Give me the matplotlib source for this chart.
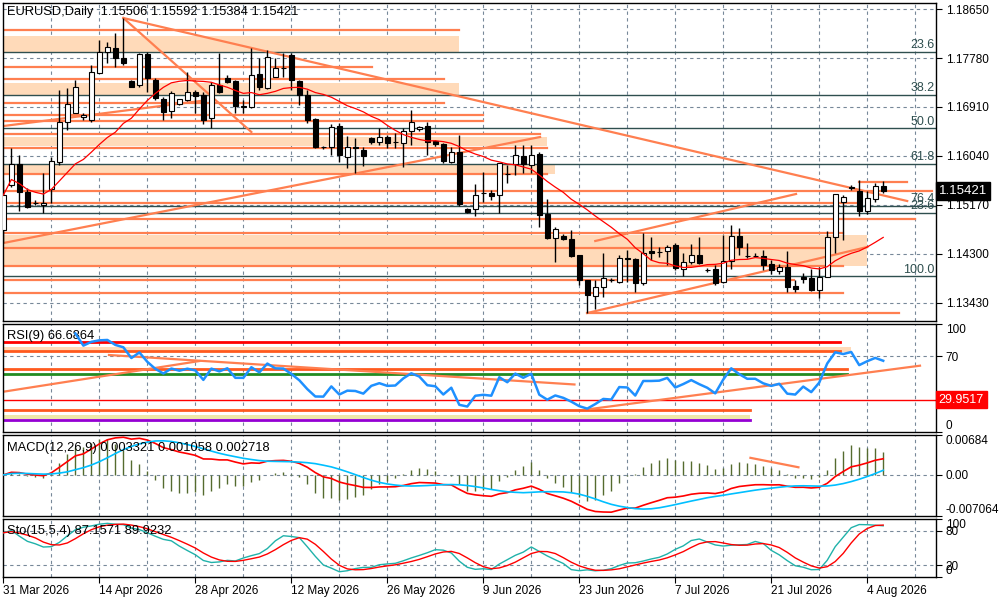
import numpy as np
import pandas as pd
import matplotlib
matplotlib.use("Agg")
import matplotlib.pyplot as plt
import matplotlib.transforms as mtransforms

plt.rcParams["font.family"] = ["Liberation Sans", "DejaVu Sans"]

# ---- price data (daily bars) ----
opens = [1.14725, 1.15524, 1.15897, 1.15400, 1.15205, 1.15169, 1.15453, 1.15933, 1.16643, 1.16803,
         1.16732, 1.16679, 1.17514, 1.17886, 1.17958, 1.17780, 1.17371, 1.17300, 1.17851, 1.17389,
         1.17052, 1.16839, 1.16963, 1.17034, 1.17176, 1.17123, 1.16714, 1.17300, 1.17425, 1.17371,
         1.16910, 1.16910, 1.17496, 1.17247, 1.17442, 1.17602, 1.17833, 1.17371, 1.17123, 1.16697,
         1.16200, 1.16200, 1.16572, 1.16022, 1.16200, 1.16146, 1.16359, 1.16288, 1.16377, 1.16288,
         1.16270, 1.16483, 1.16519, 1.16572, 1.16306, 1.16253, 1.15933, 1.16110, 1.15098, 1.15098,
         1.15382, 1.15382, 1.15347, 1.15720, 1.15897, 1.16039, 1.15880, 1.16075, 1.15009, 1.14583,
         1.14619, 1.14565, 1.14281, 1.13837, 1.13553, 1.13713, 1.13837, 1.13802, 1.14228, 1.14210,
         1.13784, 1.14352, 1.14335, 1.14352, 1.14459, 1.14033, 1.14157, 1.14281, 1.14015, 1.14033,
         1.13802, 1.14175, 1.14619, 1.14263, 1.14263, 1.14263, 1.14122, 1.13997, 1.14068, 1.13731,
         1.13890, 1.13873, 1.13660, 1.13890, 1.14601, 1.15223, 1.15489, 1.15418, 1.15063, 1.15276,
         1.15506]
highs = [1.15613, 1.16182, 1.16057, 1.15471, 1.15258, 1.15738, 1.16022, 1.17212, 1.17247, 1.17389,
         1.16803, 1.17656, 1.18100, 1.18064, 1.18224, 1.18490, 1.17389, 1.17869, 1.17886, 1.17425,
         1.17087, 1.17194, 1.17052, 1.17531, 1.17212, 1.17176, 1.17354, 1.17869, 1.17478, 1.17389,
         1.17034, 1.17958, 1.17780, 1.17922, 1.17780, 1.17869, 1.17869, 1.17389, 1.17212, 1.16714,
         1.16217, 1.16608, 1.16626, 1.16395, 1.16359, 1.16200, 1.16377, 1.16537, 1.16412, 1.16448,
         1.16537, 1.16857, 1.16572, 1.16643, 1.16324, 1.16270, 1.16200, 1.16412, 1.15116, 1.15542,
         1.15755, 1.15436, 1.15915, 1.15880, 1.16235, 1.16235, 1.16235, 1.16110, 1.15276, 1.14778,
         1.14654, 1.14725, 1.14281, 1.13837, 1.13837, 1.14317, 1.13873, 1.14281, 1.14370, 1.14228,
         1.14672, 1.14601, 1.14423, 1.14459, 1.14494, 1.14317, 1.14477, 1.14601, 1.14050, 1.14104,
         1.14636, 1.14814, 1.14761, 1.14494, 1.14317, 1.14370, 1.14192, 1.14122, 1.14352, 1.13837,
         1.13962, 1.14033, 1.14068, 1.14707, 1.15364, 1.15347, 1.15524, 1.15613, 1.15418, 1.15560,
         1.15592]
lows = [1.14494, 1.15489, 1.15063, 1.15116, 1.15169, 1.15027, 1.15205, 1.15880, 1.16501, 1.16803,
        1.16679, 1.16643, 1.17514, 1.17691, 1.17620, 1.17656, 1.17265, 1.17265, 1.17176, 1.17034,
        1.16679, 1.16714, 1.16950, 1.17016, 1.16803, 1.16608, 1.16537, 1.17158, 1.17336, 1.16803,
        1.16803, 1.16892, 1.17212, 1.17229, 1.17442, 1.17442, 1.17212, 1.16945, 1.16626, 1.16182,
        1.16164, 1.16057, 1.15933, 1.15826, 1.15738, 1.15862, 1.16253, 1.16235, 1.16182, 1.16182,
        1.15844, 1.16235, 1.16483, 1.16057, 1.16217, 1.15915, 1.15915, 1.15151, 1.15027, 1.14974,
        1.15223, 1.15258, 1.15027, 1.15560, 1.15702, 1.15738, 1.15738, 1.14778, 1.14565, 1.14157,
        1.14548, 1.14246, 1.13748, 1.13251, 1.13322, 1.13535, 1.13802, 1.13784, 1.13802, 1.13624,
        1.13748, 1.14192, 1.14246, 1.14104, 1.14015, 1.13908, 1.14122, 1.14122, 1.13979, 1.13748,
        1.13784, 1.14033, 1.14281, 1.14228, 1.14246, 1.14015, 1.13944, 1.13944, 1.13624, 1.13624,
        1.13784, 1.13642, 1.13517, 1.13890, 1.14317, 1.14548, 1.15436, 1.14974, 1.15009, 1.15223,
        1.15384]
closes = [1.15347, 1.15897, 1.15400, 1.15134, 1.15196, 1.15205, 1.15951, 1.16643, 1.16963, 1.17265,
          1.16768, 1.17531, 1.17886, 1.17975, 1.17780, 1.17691, 1.17265, 1.17851, 1.17425, 1.17070,
          1.16821, 1.17158, 1.17052, 1.17176, 1.17105, 1.16679, 1.17300, 1.17176, 1.17354, 1.16927,
          1.16927, 1.17478, 1.17265, 1.17798, 1.17602, 1.17594, 1.17389, 1.17123, 1.16679, 1.16200,
          1.16191, 1.16554, 1.16057, 1.16200, 1.16182, 1.16039, 1.16288, 1.16377, 1.16270, 1.16280,
          1.16483, 1.16643, 1.16554, 1.16288, 1.16253, 1.15951, 1.16110, 1.15187, 1.15045, 1.15347,
          1.15375, 1.15329, 1.15915, 1.15712, 1.16057, 1.15897, 1.16057, 1.14992, 1.14583, 1.14743,
          1.14565, 1.14263, 1.13837, 1.13571, 1.13713, 1.13873, 1.13830, 1.14228, 1.14210, 1.13784,
          1.14317, 1.14317, 1.14328, 1.14423, 1.14050, 1.14157, 1.14281, 1.14139, 1.14008, 1.13784,
          1.14175, 1.14619, 1.14423, 1.14256, 1.14256, 1.14104, 1.14015, 1.14068, 1.13713, 1.13677,
          1.13855, 1.13660, 1.13890, 1.14601, 1.15364, 1.15311, 1.15471, 1.15063, 1.15294, 1.15506,
          1.15421]

date_labels = ["31 Mar 2026", "14 Apr 2026", "28 Apr 2026", "12 May 2026", "26 May 2026",
               "9 Jun 2026", "23 Jun 2026", "7 Jul 2026", "21 Jul 2026", "4 Aug 2026"]
price_ticks = [1.18650, 1.17780, 1.16910, 1.16040, 1.15170, 1.14300, 1.13430]

# ---- drawn objects on the price chart ----
hline_prices = [1.18277, 1.17620, 1.17407, 1.16981, 1.16768, 1.16661, 1.16430, 1.16182, 1.15720,
                1.15418, 1.15205, 1.14921, 1.14672, 1.14406, 1.14086, 1.13842, 1.13612, 1.13251, 1.15583]
hline_start = [-1] * 17 + [73, 107]
hline_end = [57, 46.1, 55.1, 55.1, 60, 60, 67.1, 68, 68,
             116.1, 107.1, 114, 105, 103.1, 105, 98.8, 105, 112, 113]
zone_lo = [1.17869, 1.17123, 1.16217, 1.15720, 1.14086]
zone_hi = [1.18171, 1.17336, 1.16377, 1.15880, 1.14636]
zone_end = [57, 57, 68, 69, 108]
fib_names = ["23.6", "38.2", "50.0", "61.8", "76.4", "23.6", "100.0"]
fib_prices = [1.17892, 1.17128, 1.16537, 1.15903, 1.15157, 1.15032, 1.13908]
trend_lines = [(15, 1.18490, 113, 1.15240), (15, 1.18490, 31, 1.16466),
               (0, 1.14494, 67.1, 1.16377), (0, 1.16572, 24.6, 1.17016),
               (73, 1.13251, 108, 1.14423), (74, 1.14530, 99.1, 1.15365)]

# ---- drawn objects on the indicator windows ----
rsi_levels = [83.6, 75.3, 58.0, 53.8, 20.5, 11.2]
rsi_level_colors = ["#ff0000", "#ff5a1e", "#ff5a1e", "#228b22", "#ff5a1e", "#9400d3"]
rsi_level_end = [104.6, 104.6, 105.5, 105.5, 93.4, 93.4]
rsi_trend = [(13.2, 71.3, 71.4, 44.0), (0, 37.3, 24.5, 65.7), (73.4, 21.3, 114.6, 61.4)]
macd_trend = (93.4, 0.00292, 99.4, 0.00130)

df = pd.DataFrame({"open": opens, "high": highs, "low": lows, "close": closes})
n = len(df)
idx = np.arange(n)

# indicators computed from the bars
ma = df["close"].rolling(15, min_periods=1).mean()
delta = df["close"].diff()
gain = delta.clip(lower=0).ewm(alpha=1 / 9, adjust=False, min_periods=9).mean()
loss = (-delta.clip(upper=0)).ewm(alpha=1 / 9, adjust=False, min_periods=9).mean()
rsi = 100 - 100 / (1 + gain / loss)
macd_main = df["close"].ewm(span=12, adjust=False).mean() - df["close"].ewm(span=26, adjust=False).mean()
macd_signal = macd_main.rolling(9, min_periods=1).mean()
macd_hist = 2 * (macd_main - macd_signal)
ll = df["low"].rolling(15, min_periods=1).min()
hh = df["high"].rolling(15, min_periods=1).max()
sto_k = 100 * (df["close"] - ll).rolling(5, min_periods=1).sum() / (hh - ll).rolling(5, min_periods=1).sum()
sto_d = sto_k.rolling(4, min_periods=1).mean()

fig = plt.figure(figsize=(10, 6), dpi=100)


def panel(top, bottom):
    return fig.add_axes([3 / 1000, 1 - bottom / 600, 933 / 1000, (bottom - top) / 600])


ax = panel(3, 321)
ax_rsi = panel(324, 432)
ax_macd = panel(435, 516)
ax_sto = panel(519, 577)
axes = [ax, ax_rsi, ax_macd, ax_sto]

grid_kw = dict(color="#778899", lw=0.8, linestyle=(0, (3, 3)), zorder=1)
for a in axes:
    a.set_xlim(-0.05, 116.6)
    for k in range(1, 20):
        a.axvline(6 * k, **grid_kw)
    for s in a.spines.values():
        s.set_linewidth(1)
    a.tick_params(axis="y", left=False, right=True, labelleft=False, labelright=True,
                  length=4, pad=3, labelsize=8.5, direction="out")
    a.tick_params(axis="x", bottom=False, labelbottom=False)


def squeeze_labels(a):
    labels = a.get_yticklabels()
    labels[0].set_va("top")
    labels[-1].set_va("bottom")


# ---- price window ----
ax.set_ylim(1.13109, 1.18757)
ax.set_yticks(price_ticks)
ax.set_yticklabels([f"{p:.5f}" for p in price_ticks])
for p in price_ticks:
    ax.axhline(p, **grid_kw)
for lo, hi, e in zip(zone_lo, zone_hi, zone_end):
    ax.fill_between([-1, e], lo, hi, color="#ffdab9", lw=0, zorder=1.2)
for p, name in zip(fib_prices, fib_names):
    ax.axhline(p, color="#2f4f4f", lw=1, zorder=1.5)
    ax.text(116.4, p + 0.00008, name, ha="right", va="bottom", fontsize=9, color="#2f4f4f", zorder=6)
for p, s, e in zip(hline_prices, hline_start, hline_end):
    ax.plot([s, e], [p, p], color="#ff7f50", lw=1.6, zorder=2)
for x0, y0, x1, y1 in trend_lines:
    ax.plot([x0, x1], [y0, y1], color="#ff7f50", lw=1.6, zorder=2)

up = df["close"] >= df["open"]
body_lo = np.minimum(df["open"], df["close"])
body_h = np.maximum((df["close"] - df["open"]).abs(), 0.00003)
ax.vlines(idx, df["low"], df["high"], color="black", lw=1, zorder=4)
ax.bar(idx, body_h, bottom=body_lo, width=0.62, color=np.where(up, "white", "black"),
       edgecolor="black", linewidth=0.8, zorder=5)
ax.plot(idx, ma, color="#ff0000", lw=0.9, zorder=6)

trans = mtransforms.blended_transform_factory(ax.transAxes, ax.transData)
ax.text(1.003, closes[-1], f"{closes[-1]:.5f}", transform=trans, ha="left", va="center",
        fontsize=9.5, color="white", zorder=10, clip_on=False,
        bbox=dict(boxstyle="square,pad=0.22", fc="black", ec="black"))
ax.text(0.004, 0.972, "EURUSD,Daily  1.15506 1.15592 1.15384 1.15421", transform=ax.transAxes,
        fontsize=9.3, va="center", ha="left", zorder=10)

# ---- RSI window ----
ax_rsi.set_ylim(0, 100)
ax_rsi.set_yticks([100, 70, 0])
squeeze_labels(ax_rsi)
ax_rsi.axhline(70, **grid_kw)
ax_rsi.fill_between([-1, 106], 73.9, 78.3, color="#ffdab9", lw=0, zorder=1.2)
ax_rsi.fill_between([-1, 93.4], 12.0, 15.7, color="#eee8aa", lw=0, zorder=1.2)
for v, c, e in zip(rsi_levels, rsi_level_colors, rsi_level_end):
    ax_rsi.plot([-1, e], [v, v], color=c, lw=2, zorder=2)
ax_rsi.axhline(29.9517, color="#ff0000", lw=1, zorder=2)
for x0, y0, x1, y1 in rsi_trend:
    ax_rsi.plot([x0, x1], [y0, y1], color="#ff7f50", lw=1.6, zorder=2)
ax_rsi.plot(idx, rsi, color="#1e90ff", lw=1.8, zorder=4)
trans = mtransforms.blended_transform_factory(ax_rsi.transAxes, ax_rsi.transData)
ax_rsi.text(1.003, 29.9517, "29.9517", transform=trans, ha="left", va="center", fontsize=9,
            color="white", zorder=10, clip_on=False,
            bbox=dict(boxstyle="square,pad=0.22", fc="#ff0000", ec="#ff0000"))
ax_rsi.text(0.004, 0.89, "RSI(9) 66.6864", transform=ax_rsi.transAxes, fontsize=9.3, va="center")

# ---- MACD window ----
ax_macd.set_ylim(-0.007064, 0.00684)
ax_macd.set_yticks([0.00684, 0.0, -0.007064])
ax_macd.set_yticklabels(["0.00684", "0.00", "-0.007064"])
squeeze_labels(ax_macd)
ax_macd.axhline(0, **grid_kw)
ax_macd.vlines(idx, 0, macd_hist, color="#556b2f", lw=1, zorder=2)
ax_macd.plot(idx, macd_main, color="#ff0000", lw=1.2, zorder=3)
ax_macd.plot(idx, macd_signal, color="#00bfff", lw=1.2, zorder=3)
ax_macd.plot([macd_trend[0], macd_trend[2]], [macd_trend[1], macd_trend[3]], color="#ff7f50", lw=1.6, zorder=4)
ax_macd.text(0.004, 0.84, "MACD(12,26,9) 0.003321 0.001058 0.002718", transform=ax_macd.transAxes,
             fontsize=9.3, va="center")

# ---- Stochastic window ----
ax_sto.set_ylim(0, 100)
ax_sto.set_yticks([100, 80, 20, 0])
squeeze_labels(ax_sto)
ax_sto.axhline(80, **grid_kw)
ax_sto.axhline(20, **grid_kw)
ax_sto.plot(idx, sto_k, color="#20b2aa", lw=1, zorder=3)
ax_sto.plot(idx, sto_d, color="#ff0000", lw=1, zorder=3)
ax_sto.text(0.004, 0.8, "Sto(15,5,4) 87.1571 89.9232", transform=ax_sto.transAxes, fontsize=9.3, va="center")
ax_sto.set_xticks(np.arange(len(date_labels)) * 12)
ax_sto.set_xticklabels(date_labels, ha="left", fontsize=8.5)
ax_sto.tick_params(axis="x", bottom=True, labelbottom=True, length=4, pad=2)

fig.savefig("out.png", dpi=100)
